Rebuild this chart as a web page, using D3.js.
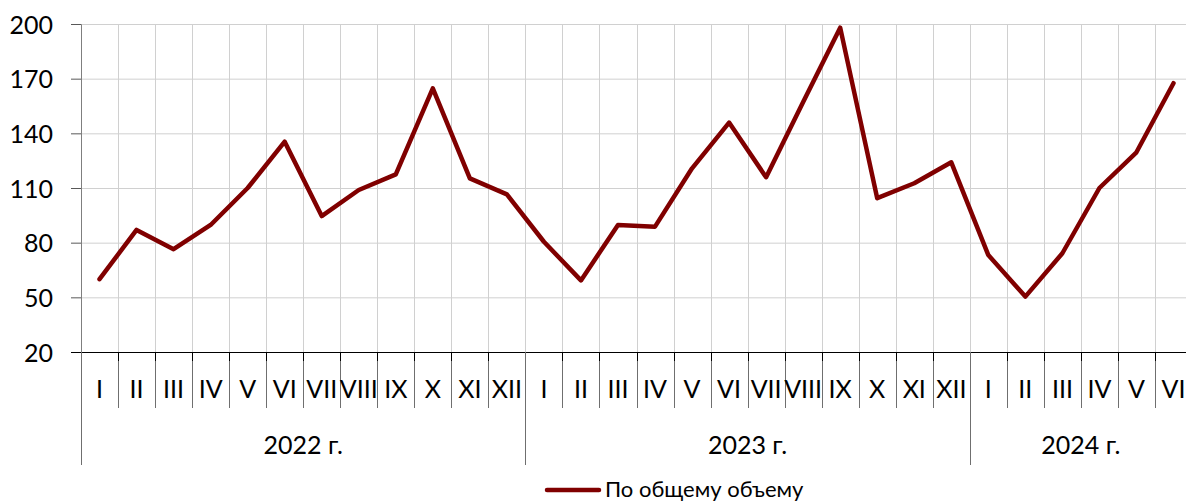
<!DOCTYPE html>
<html>
<head>
	<meta charset="utf-8" />
	<script src="https://d3js.org/d3.v7.min.js"></script>
	<style>
		body { margin: 0; background: #fff; }
		svg { display: block; font-family: Lato, "Open Sans", sans-serif; }
	</style>
</head>
<body>
	<div id="chart"></div>
	<script>
		// Données
		var months2022 = ["I", "II", "III", "IV", "V", "VI", "VII", "VIII", "IX", "X", "XI", "XII"];
		var months2023 = ["I", "II", "III", "IV", "V", "VI", "VII", "VIII", "IX", "X", "XI", "XII"];
		var months2024 = ["I", "II", "III", "IV", "V", "VI"];
		var years = ["2022 г.", "2023 г.", "2024 г."];
		var values2022 = [60, 87, 76.4, 89.7, 110, 135.4, 94.6, 108.9, 117.5, 164.7, 115.3, 106.5];
		var values2023 = [80.5, 59.3, 89.7, 88.8, 120.8, 145.9, 115.9, 157.2, 198, 104.4, 112.6, 124.1];
		var values2024 = [73.2, 50.4, 74.2, 110, 129.6, 167.5];
		var yTicks = [20, 50, 80, 110, 140, 170, 200];
		var seriesName = "По общему объему";

		var W = 1186, H = 501;
		var margin = { top: 24, left: 81 },
			width = 1111,
			height = 328;

		// tableau à plat : une entrée par mois
		var data = [];
		[[months2022, values2022, 0], [months2023, values2023, 1], [months2024, values2024, 2]].forEach(function (g) {
			g[0].forEach(function (m, i) {
				data.push({ key: g[2] + "-" + m, month: m, year: g[2], value: g[1][i] });
			});
		});

		var x = d3.scaleBand()
			.domain(data.map(function (d) { return d.key; }))
			.range([0, width]);

		var y = d3.scaleLinear()
			.domain([20, 200])
			.range([height, 0]);

		var svg = d3.select("#chart").append("svg")
			.attr("width", W)
			.attr("height", H);

		var g = svg.append("g")
			.attr("transform", "translate(" + margin.left + "," + margin.top + ")");

		// grille horizontale
		g.selectAll(".hgrid")
			.data(yTicks.slice(1))
			.enter().append("line")
			.attr("x1", 0).attr("x2", width)
			.attr("y1", function (d) { return y(d) + 0.5; })
			.attr("y2", function (d) { return y(d) + 0.5; })
			.attr("stroke", "#d0d0d0")
			.attr("stroke-width", 1);

		// grille verticale (limites des catégories)
		var bounds = d3.range(1, data.length + 1).map(function (i) { return i * x.step(); });
		g.selectAll(".vgrid")
			.data(bounds)
			.enter().append("line")
			.attr("x1", function (d) { return Math.round(d) + 0.5; })
			.attr("x2", function (d) { return Math.round(d) + 0.5; })
			.attr("y1", 0).attr("y2", height)
			.attr("stroke", "#d0d0d0")
			.attr("stroke-width", 1);

		// axe Y
		var yAxis = g.append("g")
			.call(d3.axisLeft(y).tickValues(yTicks).tickSize(10).tickPadding(18));
		yAxis.select(".domain").attr("stroke", "#7f7f7f");
		yAxis.selectAll(".tick line").attr("stroke", "#595959");
		yAxis.selectAll(".tick text")
			.attr("font-size", 25)
			.attr("font-family", "Lato, 'Open Sans', sans-serif")
			.attr("fill", "#000")
			.attr("dy", "0.36em");

		// axe X : ligne de base
		g.append("line")
			.attr("x1", -10).attr("x2", width)
			.attr("y1", height + 0.5).attr("y2", height + 0.5)
			.attr("stroke", "#000");

		// séparateurs des mois
		g.selectAll(".msep")
			.data(bounds)
			.enter().append("line")
			.attr("x1", function (d) { return Math.round(d) + 0.5; })
			.attr("x2", function (d) { return Math.round(d) + 0.5; })
			.attr("y1", height).attr("y2", height + 56)
			.attr("stroke", "#6f6f6f");
		g.selectAll(".mtick")
			.data(bounds)
			.enter().append("line")
			.attr("x1", function (d) { return Math.round(d) + 0.5; })
			.attr("x2", function (d) { return Math.round(d) + 0.5; })
			.attr("y1", height).attr("y2", height + 9)
			.attr("stroke", "#000");

		// séparateurs des années
		var yearBounds = [0, 12, 24, 30];
		g.selectAll(".ysep")
			.data(yearBounds)
			.enter().append("line")
			.attr("x1", function (d) { return Math.round(d * x.step()) + 0.5; })
			.attr("x2", function (d) { return Math.round(d * x.step()) + 0.5; })
			.attr("y1", height).attr("y2", height + 113)
			.attr("stroke", "#6f6f6f");

		// libellés des mois
		g.selectAll(".mlabel")
			.data(data)
			.enter().append("text")
			.attr("x", function (d) { return x(d.key) + x.bandwidth() / 2; })
			.attr("y", height + 46)
			.attr("text-anchor", "middle")
			.attr("font-size", 25)
			.text(function (d) { return d.month; });

		// libellés des années
		g.selectAll(".ylabel")
			.data(years)
			.enter().append("text")
			.attr("x", function (d, i) { return (yearBounds[i] + yearBounds[i + 1]) / 2 * x.step(); })
			.attr("y", height + 102)
			.attr("text-anchor", "middle")
			.attr("font-size", 25)
			.text(function (d) { return d; });

		// la courbe
		var line = d3.line()
			.x(function (d) { return x(d.key) + x.bandwidth() / 2; })
			.y(function (d) { return y(d.value); });

		g.append("path")
			.datum(data)
			.attr("d", line)
			.attr("fill", "none")
			.attr("stroke", "#800000")
			.attr("stroke-width", 4.5)
			.attr("stroke-linejoin", "round")
			.attr("stroke-linecap", "round");

		// légende
		var legend = svg.append("g").attr("transform", "translate(545,490)");
		legend.append("line")
			.attr("x1", 2).attr("x2", 54)
			.attr("y1", 0).attr("y2", 0)
			.attr("stroke", "#800000")
			.attr("stroke-width", 4.5)
			.attr("stroke-linecap", "round");
		legend.append("text")
			.attr("x", 60)
			.attr("y", 7)
			.attr("font-size", 22)
			.text(seriesName);
	</script>
</body>
</html>
